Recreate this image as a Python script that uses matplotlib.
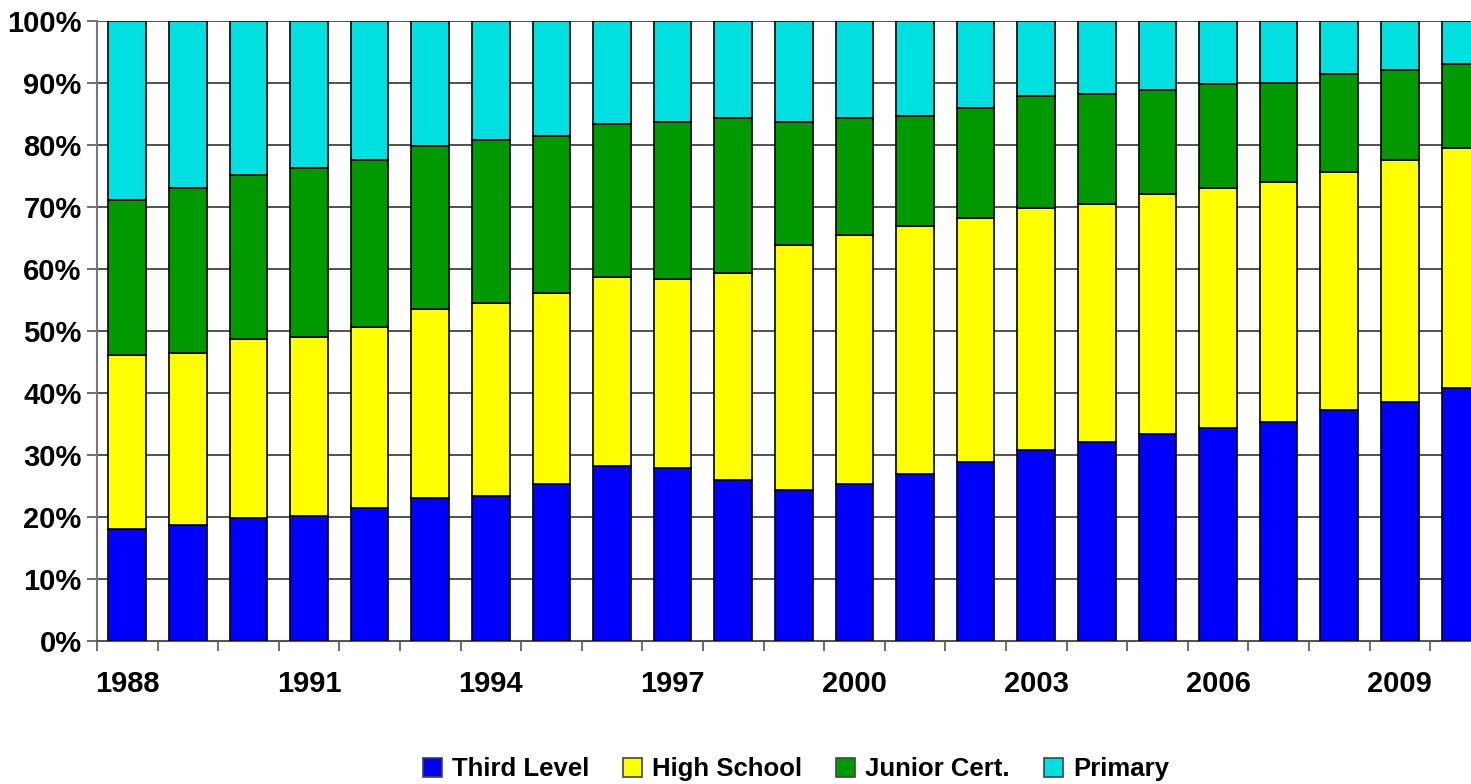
import numpy as np
import matplotlib.pyplot as plt
from matplotlib.patches import Patch
from matplotlib.ticker import FuncFormatter

years = list(range(1988, 2011))

# cumulative shares (in %)
third_level = [18.0, 18.7, 19.8, 20.2, 21.5, 23.1, 23.4, 25.3, 28.2, 27.9, 26.0, 24.4,
               25.3, 26.9, 28.9, 30.8, 32.1, 33.4, 34.4, 35.3, 37.3, 38.5, 40.8]
high_school_top = [46.1, 46.5, 48.7, 49.0, 50.6, 53.5, 54.5, 56.1, 58.7, 58.4, 59.4, 63.9,
                   65.5, 66.9, 68.2, 69.8, 70.5, 72.1, 73.1, 74.0, 75.6, 77.6, 79.5]
junior_top = [71.1, 73.1, 75.2, 76.3, 77.6, 79.8, 80.8, 81.5, 83.4, 83.7, 84.4, 83.7,
              84.4, 84.7, 86.0, 87.9, 88.2, 88.9, 89.8, 90.0, 91.5, 92.1, 93.1]

high_school = np.array(high_school_top) - np.array(third_level)
junior_cert = np.array(junior_top) - np.array(high_school_top)
primary = 100 - np.array(junior_top)

series = ['Third Level', 'High School', 'Junior Cert.', 'Primary']
colors = ['#0000FF', '#FFFF00', '#009900', '#00E0E0']

plt.rcParams['font.family'] = ['Liberation Sans', 'DejaVu Sans']
plt.rcParams['font.weight'] = 'bold'

fig = plt.figure(figsize=(14.71, 7.84), dpi=100)
# axis runs past the right edge, like the original
ax = fig.add_axes([0.0659, 0.1824, 23 * 60.6 / 1471, 0.7908])

x = np.arange(len(years))
bottom = np.zeros(len(years))
for vals, c in zip([third_level, high_school, junior_cert, primary], colors):
    ax.bar(x, vals, bottom=bottom, width=0.62, color=c, edgecolor='black',
           linewidth=1.2, zorder=3)
    bottom = bottom + np.array(vals)

ax.set_xlim(-0.5, len(years) - 0.5)
ax.set_ylim(0, 100)
ax.set_yticks(np.arange(0, 101, 10))
ax.yaxis.set_major_formatter(FuncFormatter(lambda v, p: '%d%%' % v))
ax.yaxis.grid(True, color='#333333', linewidth=1.2, zorder=0)

ax.set_xticks(x[::3])
ax.set_xticklabels([str(y) for y in years[::3]])
ax.set_xticks(np.arange(-0.5, len(years), 1), minor=True)
ax.tick_params(axis='x', which='major', length=0, pad=21, labelsize=21)
ax.tick_params(axis='x', which='minor', length=7, width=1.2, color='#555555')
ax.tick_params(axis='y', length=7, width=1.2, color='#555555', pad=4, labelsize=21)

for s in ['top', 'right']:
    ax.spines[s].set_visible(False)
ax.spines['left'].set_color('#777777')
ax.spines['left'].set_linewidth(1.5)
ax.spines['bottom'].set_color('#555555')
ax.spines['bottom'].set_linewidth(1.5)

handles = [Patch(facecolor=c, edgecolor='#444444', linewidth=1.2) for c in colors]
fig.legend(handles, series, loc='center', bbox_to_anchor=(0.541, 0.019), ncol=4,
           frameon=False, fontsize=18.5, handlelength=0.75, handleheight=0.75,
           handletextpad=0.4, columnspacing=1.3)

fig.savefig('out.png', dpi=100)
